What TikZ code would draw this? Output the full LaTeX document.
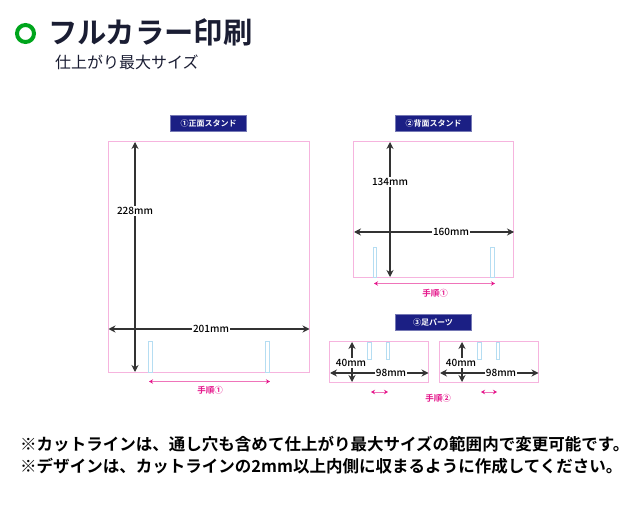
\documentclass[tikz,border=0pt]{standalone}
\usepackage{fontspec}
\setmainfont{Noto Sans CJK JP}
\newfontfamily\jpbold{Noto Sans CJK JP Bold}
\newfontfamily\jpmedium{Noto Sans CJK JP Medium}
\usetikzlibrary{arrows.meta,positioning}

\definecolor{navy}{HTML}{1B1F84}
\definecolor{ink}{HTML}{1A1D33}
\definecolor{cutpink}{HTML}{F6B4DE}
\definecolor{slotblue}{HTML}{B5DDF2}
\definecolor{stepmagenta}{HTML}{E5188C}
\definecolor{ringgreen}{HTML}{00A51C}

\tikzset{
    banner/.style={fill=navy, draw=navy!60!white, line width=0.5pt, text=white, minimum width=76pt, minimum height=16pt, inner sep=0pt, font=\jpbold\fontsize{8}{8}\selectfont},
    panel/.style={draw=cutpink, line width=1pt, inner sep=0pt},
    slot/.style={draw=slotblue, fill=white, line width=0.7pt, inner sep=0pt, minimum width=3.5pt},
    size/.style={fill=white, inner sep=1pt, text=black, font=\jpmedium\fontsize{10}{10}\selectfont},
    steplabel/.style={text=stepmagenta, inner sep=0pt, font=\jpbold\fontsize{8.5}{8.5}\selectfont},
    notice/.style={anchor=west, inner sep=0pt, text=black, font=\jpbold\fontsize{16.52}{16.52}\selectfont},
    dim/.style={{Stealth[length=7pt,width=7pt]}-{Stealth[length=7pt,width=7pt]}, line width=1.1pt, black!80},
    stepdim/.style={{Stealth[length=4pt,width=4.5pt,color=stepmagenta]}-{Stealth[length=4pt,width=4.5pt,color=stepmagenta]}, line width=0.7pt, stepmagenta!60},
}

\begin{document}
\begin{tikzpicture}[x=1pt, y=-1pt]
    \useasboundingbox (0,0) rectangle (640,521);

    % heading
    \node[circle, draw=ringgreen, line width=4pt, minimum size=17pt, inner sep=0pt] (ring) at (25.5,33.5) {};
    \node[anchor=west, inner sep=0pt, text=ink, font=\jpbold\fontsize{29.3}{29.3}\selectfont] (title) at (48,32) {フルカラー印刷};
    \node[anchor=west, inner sep=0pt, text=ink, font=\fontsize{16}{16}\selectfont] (subtitle) at (55,62) {仕上がり最大サイズ};

    % front stand
    \node[banner] (frontbanner) at (208.5,123) {①正面スタンド};
    \node[panel, minimum width=201pt, minimum height=230pt] (front) at (209,257) {};
    \node[slot, minimum height=31pt] (frontslotA) at (150.5,356.5) {};
    \node[slot, minimum height=31pt] (frontslotB) at (267.5,356.5) {};
    \coordinate (frontT) at (135,142);
    \coordinate (frontB) at (135,372);
    \coordinate (frontL) at (108.5,329);
    \coordinate (frontR) at (309.5,329);
    \coordinate (frontstepL) at (149,381.5);
    \coordinate (frontstepR) at (270,381.5);
    \path[dim] (frontT) edge (frontB)
               (frontL) edge (frontR);
    \path[stepdim] (frontstepL) edge (frontstepR);
    \node[size] (frontheight) at (135,211) {228mm};
    \node[size] (frontwidth) at (211,329) {201mm};
    \node[steplabel] (frontstep) at (210,390) {手順①};

    % back stand
    \node[banner] (backbanner) at (433.5,123) {②背面スタンド};
    \node[panel, minimum width=160pt, minimum height=135.5pt] (back) at (433.5,209.75) {};
    \node[slot, minimum height=30pt] (backslotA) at (375,262) {};
    \node[slot, minimum height=30pt] (backslotB) at (492.5,262) {};
    \coordinate (backT) at (390,142);
    \coordinate (backB) at (390,277);
    \coordinate (backL) at (354,232);
    \coordinate (backR) at (514,232);
    \coordinate (backstepL) at (374,283.5);
    \coordinate (backstepR) at (495,283.5);
    \path[dim] (backT) edge (backB)
               (backL) edge (backR);
    \path[stepdim] (backstepL) edge (backstepR);
    \node[size] (backheight) at (390,182) {134mm};
    \node[size] (backwidth) at (451,232) {160mm};
    \node[steplabel] (backstep) at (435,293) {手順①};

    % foot parts
    \node[banner] (footbanner) at (433,322) {③足パーツ};

    \node[panel, minimum width=99pt, minimum height=40pt] (footA) at (379,362) {};
    \node[slot, minimum height=17pt] (footAslotA) at (369.25,350.5) {};
    \node[slot, minimum height=17pt] (footAslotB) at (387.75,350.5) {};
    \coordinate (footAT) at (352,342);
    \coordinate (footAB) at (352,382);
    \coordinate (footAL) at (330,373);
    \coordinate (footAR) at (428.5,373);
    \coordinate (footAstepL) at (371,392);
    \coordinate (footAstepR) at (388,392);
    \path[dim] (footAT) edge (footAB)
               (footAL) edge (footAR);
    \path[stepdim] (footAstepL) edge (footAstepR);
    \node[size] (footAheight) at (351,363) {40mm};
    \node[size] (footAwidth) at (391,373) {98mm};

    \node[panel, minimum width=99pt, minimum height=40pt] (footB) at (489,362) {};
    \node[slot, minimum height=17pt] (footBslotA) at (479.25,350.5) {};
    \node[slot, minimum height=17pt] (footBslotB) at (497.75,350.5) {};
    \coordinate (footBT) at (462,342);
    \coordinate (footBB) at (462,382);
    \coordinate (footBL) at (440,373);
    \coordinate (footBR) at (538.5,373);
    \coordinate (footBstepL) at (481,392);
    \coordinate (footBstepR) at (497,392);
    \path[dim] (footBT) edge (footBB)
               (footBL) edge (footBR);
    \path[stepdim] (footBstepL) edge (footBstepR);
    \node[size] (footBheight) at (461,363) {40mm};
    \node[size] (footBwidth) at (501,373) {98mm};

    \node[steplabel] (footstep) at (438,398) {手順②};

    % notes
    \node[notice] (noteA) at (20,444.5) {※カットラインは、通し穴も含めて仕上がり最大サイズの範囲内で変更可能です。};
    \node[notice] (noteB) at (20,466.5) {※デザインは、カットラインの2mm以上内側に収まるように作成してください。};
\end{tikzpicture}
\end{document}
